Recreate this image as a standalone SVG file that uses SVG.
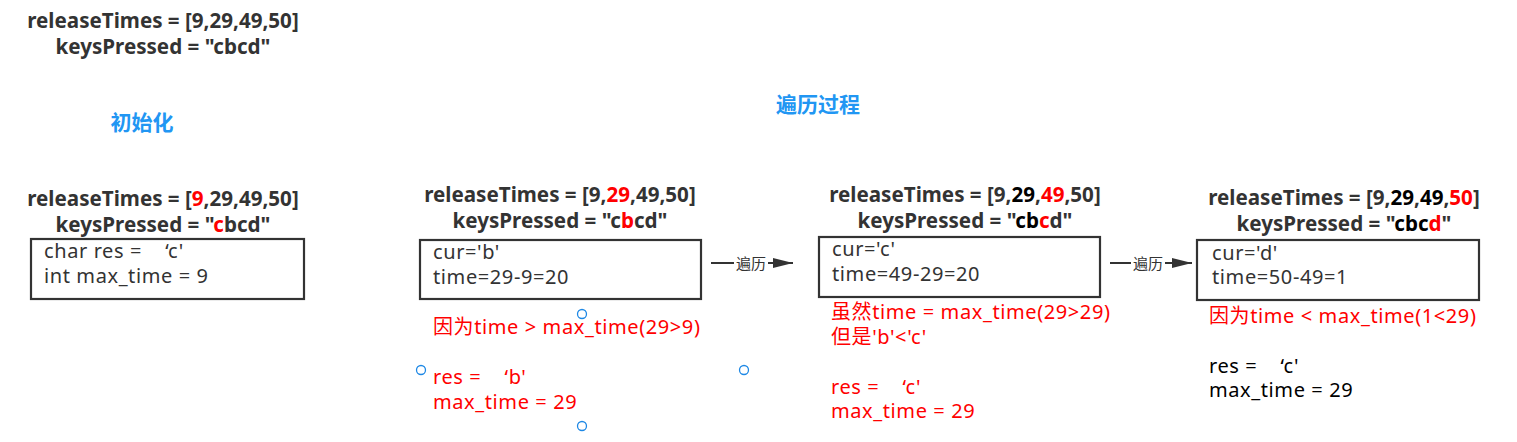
<svg xmlns="http://www.w3.org/2000/svg" width="1517" height="442" viewBox="0 0 1517 442">
<defs>
<style>
text{font-family:"Noto Sans","Noto Sans CJK SC",sans-serif;white-space:pre;}
.h{font-size:20.6px;font-weight:bold;fill:#333;text-anchor:middle;}
.b{font-size:20px;fill:#333;letter-spacing:0.6px;}
.r{font-size:20px;fill:#ff0000;letter-spacing:0.6px;}
.red{fill:#ff0000;}
.blk{fill:#000;}
.t{font-size:21px;font-weight:bold;fill:#2196f3;text-anchor:middle;}
.box{fill:#fff;stroke:#333;stroke-width:2.2;}
.lbl{font-size:15px;fill:#333;text-anchor:middle;}
.conn{stroke:#333;stroke-width:2.2;fill:none;}
.hdl{fill:#fff;stroke:#1e88e5;stroke-width:1.3;}
</style>
<marker id="ah" markerWidth="20" markerHeight="12" refX="20" refY="6" orient="auto" markerUnits="userSpaceOnUse">
<path d="M0,1 L20,6 L0,11 Z" fill="#333"/>
</marker>
</defs>
<rect width="1517" height="442" fill="#fff"/>

<g id="input">
<text class="h" x="163" y="28">releaseTimes = [9,29,49,50]</text>
<text class="h" x="163" y="54">keysPressed = "cbcd"</text>
</g>

<g id="title-init"><text class="t" x="142" y="130">初始化</text></g>
<g id="title-loop"><text class="t" x="818" y="112">遍历过程</text></g>

<g id="step0">
<text class="h" x="163" y="206">releaseTimes = [<tspan class="red">9</tspan>,29,49,50]</text>
<text class="h" x="163" y="232">keysPressed = "<tspan class="red">c</tspan>bcd"</text>
<rect class="box" x="31" y="239" width="273" height="60"/>
<text class="b" x="44" y="258">char res =    ‘c'</text>
<text class="b" x="44" y="283">int max_time = 9</text>
</g>

<g id="step1">
<text class="h" x="560" y="202">releaseTimes = [9,<tspan class="red">29</tspan>,49,50]</text>
<text class="h" x="560" y="228">keysPressed = "c<tspan class="red">b</tspan>cd"</text>
<rect class="box" x="420" y="240" width="281" height="59"/>
<text class="b" x="433" y="259">cur='b'</text>
<text class="b" x="433" y="284">time=29-9=20</text>
<text class="r" x="433" y="334">因为time &gt; max_time(29&gt;9)</text>
<text class="r" x="433" y="384">res =    ‘b'</text>
<text class="r" x="433" y="409">max_time = 29</text>
</g>

<g id="step2">
<text class="h" x="965" y="202">releaseTimes = [9,<tspan class="blk">29</tspan>,<tspan class="red">49</tspan>,50]</text>
<text class="h" x="965" y="228">keysPressed = "<tspan class="blk">cb</tspan><tspan class="red">c</tspan>d"</text>
<rect class="box" x="819" y="237" width="281" height="60"/>
<text class="b" x="832" y="256">cur='c'</text>
<text class="b" x="832" y="281">time=49-29=20</text>
<text class="r" x="831" y="319">虽然time = max_time(29&gt;29)</text>
<text class="r" x="831" y="344">但是'b'&lt;'c'</text>
<text class="r" x="831" y="394">res =    ‘c'</text>
<text class="r" x="831" y="418">max_time = 29</text>
</g>

<g id="step3">
<text class="h" x="1344" y="205">releaseTimes = [9,<tspan class="blk">29</tspan>,<tspan class="blk">49</tspan>,<tspan class="red">50</tspan>]</text>
<text class="h" x="1344" y="231">keysPressed = "<tspan class="blk">cbc</tspan><tspan class="red">d</tspan>"</text>
<rect class="box" x="1197" y="240" width="282" height="60"/>
<text class="b" x="1212" y="260">cur='d'</text>
<text class="b" x="1212" y="284">time=50-49=1</text>
<text class="r" x="1209" y="323">因为time &lt; max_time(1&lt;29)</text>
<text class="b" x="1209" y="373" style="fill:#000">res =    ‘c'</text>
<text class="b" x="1209" y="397" style="fill:#000">max_time = 29</text>
</g>

<g id="connectors">
<line class="conn" x1="711" y1="263" x2="793" y2="263" marker-end="url(#ah)"/>
<rect x="734" y="253" width="34" height="20" fill="#fff"/>
<text class="lbl" x="751" y="269">遍历</text>
<line class="conn" x1="1110" y1="263" x2="1192" y2="263" marker-end="url(#ah)"/>
<rect x="1131" y="253" width="34" height="20" fill="#fff"/>
<text class="lbl" x="1148" y="269">遍历</text>
</g>

<g id="handles">
<circle class="hdl" cx="582" cy="314" r="4.5"/>
<circle class="hdl" cx="421" cy="370" r="4.5"/>
<circle class="hdl" cx="744" cy="370" r="4.5"/>
<circle class="hdl" cx="582" cy="426" r="4.5"/>
</g>
</svg>
